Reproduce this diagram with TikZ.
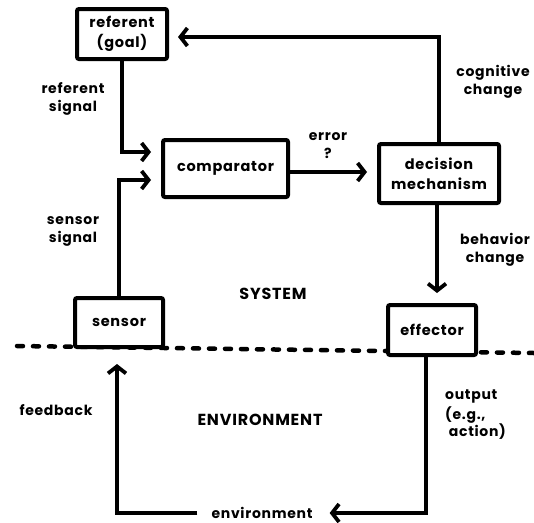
\documentclass[tikz,border=0pt]{standalone}
\usepackage{fontspec}
\setmainfont{Poppins}[LetterSpace=5]
\usetikzlibrary{arrows.meta}
\begin{document}
\begin{tikzpicture}[x=1pt,y=-1pt,
  every node/.style={font=\bfseries\fontsize{14.5}{20}\selectfont},
  blk/.style={draw,line width=4pt,rounded corners=2pt,fill=white,align=center,inner sep=0pt},
  lbl/.style={align=center,inner sep=0pt,font=\bfseries\fontsize{14}{18}\selectfont},
  big/.style={inner sep=0pt,font=\bfseries\fontsize{16}{18}\selectfont},
  wire/.style={line width=3.8pt,-{Straight Barb[length=7pt,width=18pt,line width=3.8pt]}},
  sep/.style={line width=4.5pt,line cap=round,dash pattern=on 6pt off 10pt}]
\useasboundingbox (0,0) rectangle (534,522);

% system / environment boundary
\coordinate (bl) at (17,346);
\coordinate (br) at (534,353);
\draw[sep] (bl) -- (br);

% blocks
\node[blk,minimum width=90pt,minimum height=50pt] (ref) at (122,34) {referent\\(goal)};
\node[blk,minimum width=125pt,minimum height=57pt] (comp) at (225.5,168.5) {comparator};
\node[blk,minimum width=120pt,minimum height=59pt] (dec) at (439,173.5) {decision\\mechanism};
\node[blk,minimum width=88pt,minimum height=49pt] (sens) at (119,322.5) {sensor};
\node[blk,minimum width=88pt,minimum height=50pt] (eff) at (432,330) {effector};

% labels
\node[lbl] (refsig) at (73,99) {referent\\signal};
\node[lbl] (senssig) at (73,231) {sensor\\signal};
\node[lbl] (err) at (328,146) {error\\?};
\node[lbl] (cog) at (493,82) {cognitive\\change};
\node[lbl] (beh) at (495,250) {behavior\\change};
\node[lbl] (fb) at (56,410) {feedback};
\node[lbl,align=left,anchor=north west,font=\bfseries\fontsize{14}{20}\selectfont] (out) at (445,390) {output\\(e.g.,\\[-3pt]\ action)};
\node[lbl] (env) at (262,513) {environment};
\node[big] (sys) at (273,294) {SYSTEM};
\node[big] (envt) at (260,420) {ENVIRONMENT};

% connectors
\draw[wire,shorten >=10pt] (ref.south) |- ([yshift=16.5pt]comp.west);
\draw[wire,shorten >=10pt] (sens.north) |- ([yshift=-11.5pt]comp.west);
\draw[wire,shorten >=10pt] ([yshift=-3.5pt]comp.east) -- ([yshift=-3.5pt]comp.east -| dec.west);
\draw[wire,shorten >=9pt] (dec.north) |- ([yshift=-3pt]ref.east);
\draw[wire,shorten >=10pt] ([xshift=-2pt]dec.south) -- ([xshift=5pt]eff.north);
\draw[wire,shorten >=17pt] ([xshift=-6pt]eff.south) |- (env.east);
\draw[wire,shorten <=14pt,shorten >=15pt] (env.west) -| ([xshift=-2pt]sens.south);
\end{tikzpicture}
\end{document}
